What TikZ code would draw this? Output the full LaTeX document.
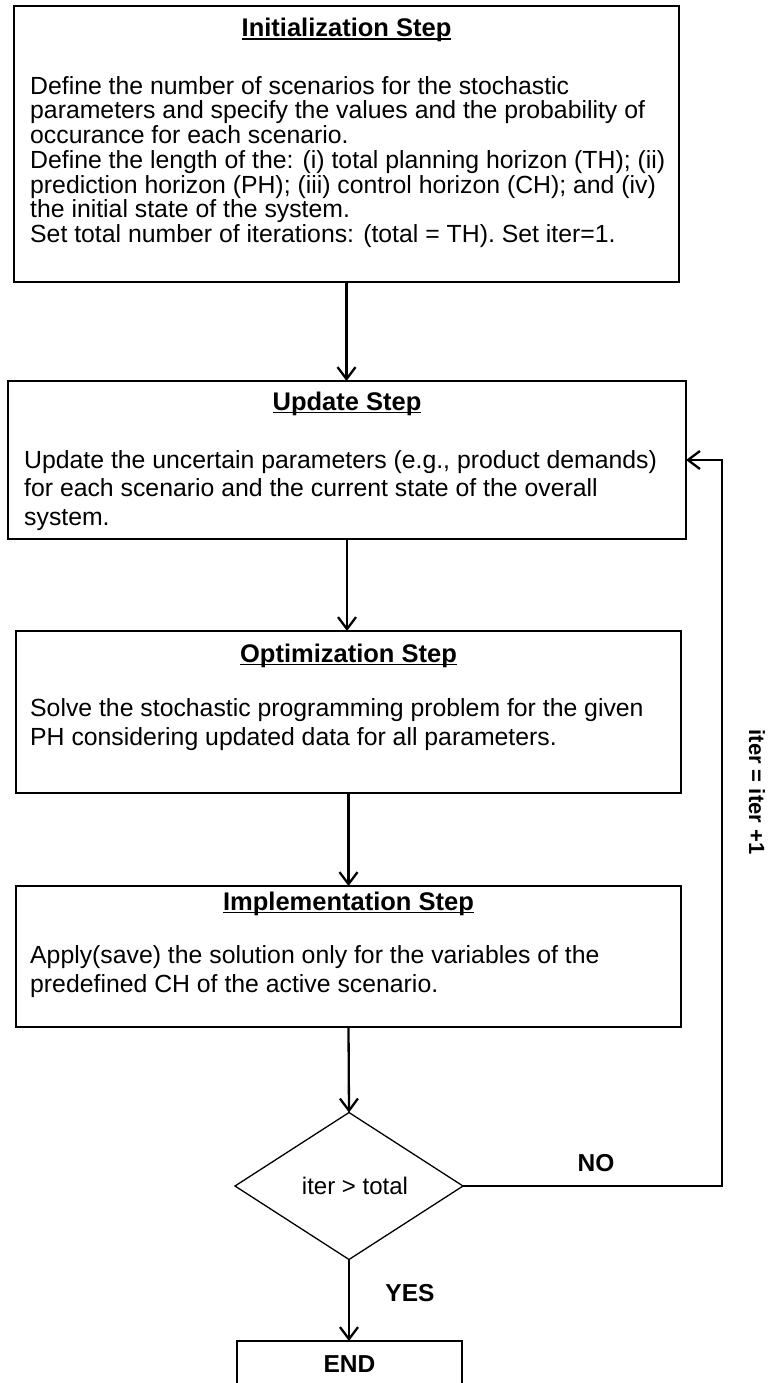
\documentclass[tikz,border=0pt]{standalone}
\usepackage{fontspec}
\setmainfont{Liberation Sans}
\usetikzlibrary{arrows.meta,shapes.geometric}
\newcommand{\myul}[1]{\setbox0\hbox{#1}\rlap{\rule[-3.4pt]{\wd0}{1.7pt}}\box0}
\begin{document}
\begin{tikzpicture}[x=1pt,y=-1pt,
  box/.style={draw, line width=1.3pt, inner sep=0pt, outer sep=0pt, anchor=north west},
  conn/.style={line width=2.3pt, -{Straight Barb[length=12pt,width=18pt]}},
  ttl/.style={anchor=base, inner sep=0pt, font=\bfseries\fontsize{25.5}{29}\selectfont},
  txt/.style={anchor=base west, inner sep=0pt, font=\fontsize{24.8}{28}\selectfont},
  lbl/.style={inner sep=0pt, font=\bfseries\fontsize{24.5}{28}\selectfont}
]
\useasboundingbox (0,0) rectangle (768,1383);

% boxes
\node[box, minimum width=665pt, minimum height=276pt] (init) at (14,6) {};
\node[box, minimum width=678pt, minimum height=158pt] (update) at (8,381) {};
\node[box, minimum width=665pt, minimum height=162pt] (opt) at (16,631) {};
\node[box, minimum width=665pt, minimum height=141pt] (impl) at (16,886) {};
\node[diamond, draw, line width=1.3pt, inner sep=0pt, outer sep=0pt,
      minimum width=228pt, minimum height=147pt,
      font=\fontsize{24}{28}\selectfont] (dia) at (349,1186) {\hspace*{12pt}iter > total};
\node[box, minimum width=225pt, minimum height=46pt, font=\bfseries\fontsize{24.5}{28}\selectfont] (end) at (237,1341) {END};

% init text
\node[ttl] (t1) at (346.5,36.7) {\myul{Initialization Step}};
\node[txt] (i1) at (30,94.3) {Define the number of scenarios for the stochastic};
\node[txt] (i2) at (30,119.0) {parameters and specify the values and the probability of};
\node[txt] (i3) at (30,143.7) {occurance for each scenario.};
\node[txt] (i4) at (30,168.4) {Define the length of the: (i) total planning horizon (TH); (ii)};
\node[txt] (i5) at (30,193.1) {prediction horizon (PH); (iii) control horizon (CH); and (iv)};
\node[txt] (i6) at (30,217.8) {the initial state of the system.};
\node[txt] (i7) at (30,242.5) {Set total number of iterations: (total = TH). Set iter=1.};

% update text
\node[ttl] (t2) at (347,410) {\myul{Update Step}};
\node[txt] (u1) at (24,468) {Update the uncertain parameters (e.g., product demands)};
\node[txt] (u2) at (24,496.5) {for each scenario and the current state of the overall};
\node[txt] (u3) at (24,525) {system.};

% optimization text
\node[ttl] (t3) at (348.5,662) {\myul{Optimization Step}};
\node[txt] (o1) at (30,716) {Solve the stochastic programming problem for the given};
\node[txt] (o2) at (30,745) {PH considering updated data for all parameters.};

% implementation text
\node[ttl] (t4) at (348.5,910) {\myul{Implementation Step}};
\node[txt] (m1) at (30,963.5) {Apply(save) the solution only for the variables of the};
\node[txt] (m2) at (30,992.5) {predefined CH of the active scenario.};

% labels
\node[lbl] (no) at (596,1163) {NO};
\node[lbl] (yes) at (410,1293) {YES};
\node[lbl, rotate=-90, font=\bfseries\fontsize{22}{26}\selectfont] (iterlbl) at (757,792) {iter = iter +1};

% connectors
\coordinate (fb1) at (722,1186);
\coordinate (fb2) at (722,460);
\draw[conn] (init.south) -- (init.south |- update.north);
\draw[conn] (update.south) -- (update.south |- opt.north);
\draw[conn] (opt.south) -- (impl.north);
\draw[conn] (impl.south) -- (dia.north);
\draw[conn] (dia.south) -- (dia.south |- end.north);
\draw[conn] (dia.east) -- (fb1) -- (fb2) -- (update.east);
\end{tikzpicture}
\end{document}
